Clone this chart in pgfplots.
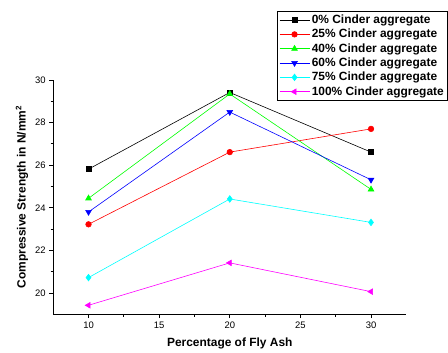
\documentclass[border=0pt]{standalone}
\usepackage{pgfplots}
\pgfplotsset{compat=1.18}
\usepackage{fontspec}
\setmainfont{Liberation Sans}
\definecolor{cG}{RGB}{0,255,0}
\definecolor{cC}{RGB}{0,255,255}
\definecolor{cM}{RGB}{255,0,255}
\definecolor{cR}{RGB}{255,0,0}
\definecolor{cB}{RGB}{0,0,255}
\begin{document}
\begin{tikzpicture}
\begin{axis}[
  scale only axis,
  width=353.7bp, height=234.7bp,
  xmin=7.5, xmax=32.5, ymin=19, ymax=30,
  axis x line*=bottom, axis y line*=left,
  axis line style={line width=0.8pt, -},
  tick align=outside,
  major tick length=4bp, minor tick length=2.5bp,
  tick style={line width=0.8pt, black},
  xtick={10,15,20,25,30}, ytick={20,22,24,26,28,30},
  minor x tick num=1, minor y tick num=1,
  ticklabel style={font=\fontsize{9.5}{11}\selectfont},
  /pgf/number format/assume math mode=true,
  xlabel={\bfseries Percentage of Fly Ash},
  ylabel={\bfseries Compressive Strength in N/mm\textsuperscript{2}},
  label style={font=\fontsize{12}{14}\selectfont},
  xlabel style={at={(rel axis cs:0.5,-0.125)}, anchor=center},
  ylabel style={at={(rel axis cs:-0.0885,0.5)}, anchor=center},
  clip=false,
  legend cell align=left,
  legend style={at={(rel axis cs:1.118,1.295)}, anchor=north east,
    draw=black, line width=0.8pt,
    font=\bfseries\fontsize{12}{14}\selectfont,
    row sep=0.2bp, inner sep=1.8bp,
    nodes={inner sep=2bp}},
  legend image code/.code={
    \draw[#1, mark repeat=2, mark phase=2] plot coordinates {(0bp,0bp) (15bp,0bp) (30bp,0bp)};},
  every axis plot/.append style={line width=0.6pt, mark size=2.8bp},
]
\addplot[black, mark=square*, mark size=2.4bp] coordinates {(10,25.81) (20,29.41) (30,26.61)};
\addlegendentry{0\% Cinder aggregate}
\addplot[cR, mark=*] coordinates {(10,23.22) (20,26.61) (30,27.70)};
\addlegendentry{25\% Cinder aggregate}
\addplot[cG, mark=triangle*, mark size=3.3bp] coordinates {(10,24.44) (20,29.34) (30,24.86)};
\addlegendentry{40\% Cinder aggregate}
\addplot[cB, mark=triangle*, mark size=3.3bp, mark options={rotate=180}] coordinates {(10,23.8) (20,28.49) (30,25.31)};
\addlegendentry{60\% Cinder aggregate}
\addplot[cC, mark=diamond*, mark size=3.3bp] coordinates {(10,20.72) (20,24.41) (30,23.31)};
\addlegendentry{75\% Cinder aggregate}
\addplot[cM, mark=triangle*, mark size=3.3bp, mark options={rotate=90}] coordinates {(10,19.42) (20,21.41) (30,20.06)};
\addlegendentry{100\% Cinder aggregate}
\path (rel axis cs:-0.1507,-0.150) rectangle (rel axis cs:1.116,1.341);
\end{axis}
\end{tikzpicture}
\end{document}
